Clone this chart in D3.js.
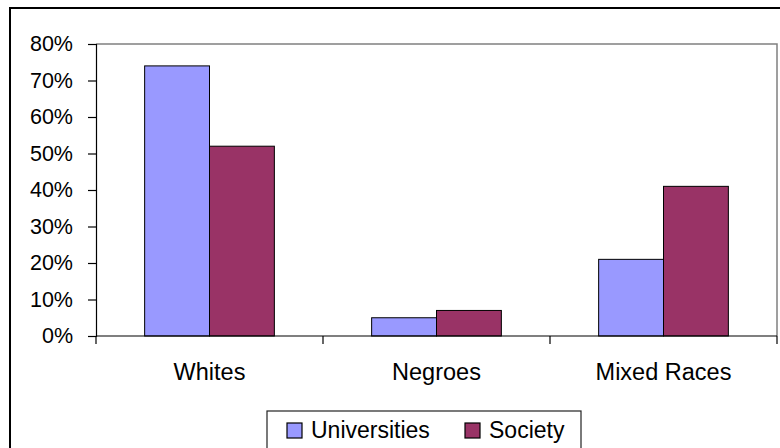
<!DOCTYPE html>
<html>
<head>
<meta charset="utf-8">
<script src="https://cdn.jsdelivr.net/npm/d3@7/dist/d3.min.js"></script>
<style>
  html, body { margin: 0; padding: 0; background: #fff; }
  svg { display: block; font-family: Arial, "Liberation Sans", sans-serif; }
</style>
</head>
<body>
<svg id="chart" width="780" height="448"></svg>
<script>
const categories = ["Whites", "Negroes", "Mixed Races"];
const seriesNames = ["Universities", "Society"];
const universities = [0.74, 0.05, 0.21];
const society = [0.52, 0.07, 0.41];
const yTicks = [0, 0.1, 0.2, 0.3, 0.4, 0.5, 0.6, 0.7, 0.8];
const colors = ["#9999FF", "#993366"];

const svg = d3.select("#chart");
const plot = { left: 96, right: 777, top: 44, bottom: 336 };

// outer chart border
svg.append("rect").attr("x", 10).attr("y", 8).attr("width", 820).attr("height", 500)
  .attr("fill", "#fff").attr("stroke", "#000").attr("stroke-width", 2);

const x0 = d3.scaleBand().domain(categories).range([plot.left, plot.right]).padding(0);
const x1 = d3.scaleBand().domain(seriesNames).range([0, x0.bandwidth()])
  .paddingInner(0).paddingOuter(0.75);
const y = d3.scaleLinear().domain([0, 0.8]).range([plot.bottom, plot.top]);

// plot area border (top and right, gray)
svg.append("path")
  .attr("d", `M${plot.left},${plot.top}H${plot.right}V${plot.bottom}`)
  .attr("fill", "none").attr("stroke", "#808080").attr("stroke-width", 1.5);

// bars
const rows = categories.map((c, i) => ({ cat: c, vals: [universities[i], society[i]] }));
const g = svg.append("g");
rows.forEach(r => {
  r.vals.forEach((v, j) => {
    g.append("rect")
      .attr("x", x0(r.cat) + x1(seriesNames[j]))
      .attr("y", y(v))
      .attr("width", x1.bandwidth())
      .attr("height", y(0) - y(v))
      .attr("fill", colors[j])
      .attr("stroke", "#000").attr("stroke-width", 1);
  });
});

// y axis
const yAxis = d3.axisLeft(y).tickValues(yTicks).tickFormat(d3.format(".0%"))
  .tickSize(8).tickPadding(15);
const ya = svg.append("g").attr("transform", `translate(${plot.left},0)`).call(yAxis);
ya.select(".domain").attr("stroke", "#000").attr("stroke-width", 1.2);
ya.selectAll(".tick line").attr("stroke", "#000").attr("stroke-width", 1.2);
ya.selectAll(".tick text").attr("font-size", "21.5px").attr("fill", "#000")
  .attr("font-family", "Arial, 'Liberation Sans', sans-serif");

// x axis line
svg.append("line").attr("x1", plot.left).attr("x2", plot.right)
  .attr("y1", y(0)).attr("y2", y(0)).attr("stroke", "#000").attr("stroke-width", 1.2);
// x boundary ticks
const bounds = categories.map(c => x0(c)).concat([x0(categories[categories.length - 1]) + x0.bandwidth()]);
svg.selectAll(".xtick").data(bounds).enter().append("line")
  .attr("x1", d => d).attr("x2", d => d)
  .attr("y1", y(0)).attr("y2", y(0) + 8)
  .attr("stroke", "#000").attr("stroke-width", 1.2);
// x labels
svg.selectAll(".xlabel").data(categories).enter().append("text")
  .attr("x", d => x0(d) + x0.bandwidth() / 2)
  .attr("y", 379.5)
  .attr("text-anchor", "middle")
  .attr("font-size", "23.5px")
  .attr("fill", "#000")
  .text(d => d);

// legend
const lg = svg.append("g");
lg.append("rect").attr("x", 267).attr("y", 411).attr("width", 314).attr("height", 60)
  .attr("fill", "#fff").attr("stroke", "#222").attr("stroke-width", 1.2);
const legendX = [287, 465];
seriesNames.forEach((s, j) => {
  lg.append("rect").attr("x", legendX[j]).attr("y", 423).attr("width", 15).attr("height", 15)
    .attr("fill", colors[j]).attr("stroke", "#000").attr("stroke-width", 1.2);
  lg.append("text").attr("x", legendX[j] + 24).attr("y", 437.5)
    .attr("font-size", "23px").attr("fill", "#000").text(s);
});
</script>
</body>
</html>
